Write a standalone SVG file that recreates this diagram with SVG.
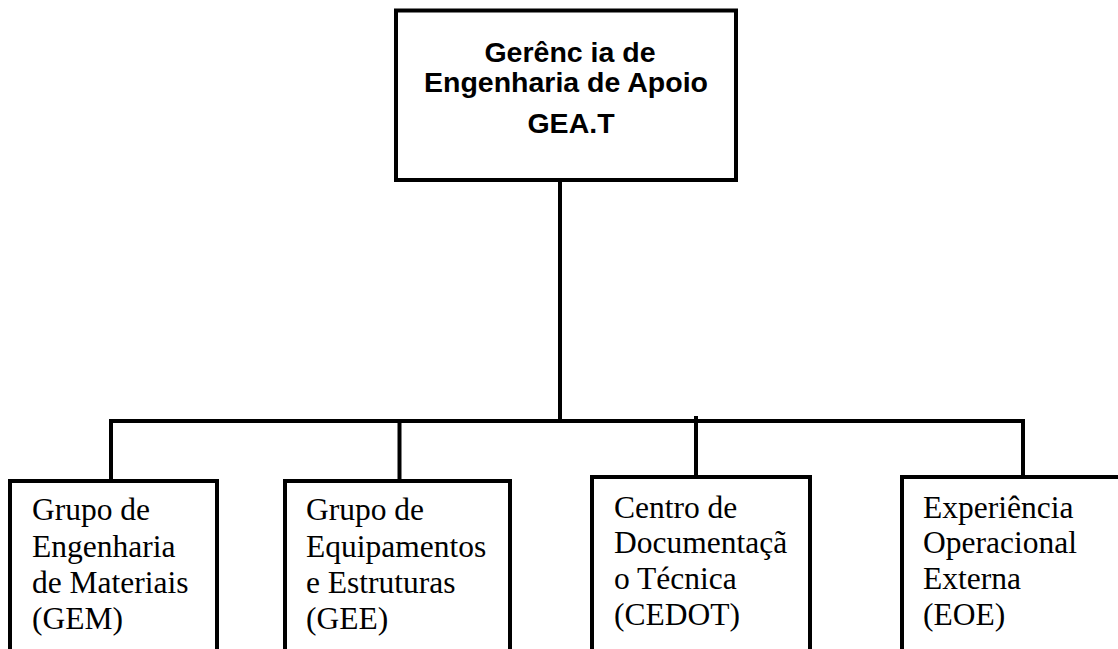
<svg xmlns="http://www.w3.org/2000/svg" width="1118" height="649" viewBox="0 0 1118 649">
<style>
.box{fill:#fff;stroke:#000;stroke-width:4}
.ln{stroke:#000;stroke-width:4;fill:none;stroke-linecap:square}
.hd{font-family:"Liberation Sans",Arial,sans-serif;font-weight:bold;font-size:28.5px;fill:#000;text-anchor:middle}
.tx{font-family:"Liberation Serif","Times New Roman",serif;font-size:31.5px;fill:#000}
</style>
<rect width="1118" height="649" fill="#fff"/>
<g id="connectors">
<path class="ln" d="M560 180 V421"/>
<path class="ln" d="M111 421 H1023"/>
<path class="ln" d="M111 421 V481"/>
<path class="ln" d="M399.5 421 V481"/>
<path class="ln" d="M696 418 V477"/>
<path class="ln" d="M1023 421 V477"/>
</g>
<g id="node-geat">
<rect class="box" x="396" y="10.5" width="340" height="169.5"/>
<text class="hd" x="570" y="62">Gerênc ia de</text>
<text class="hd" x="566" y="92">Engenharia de Apoio</text>
<text class="hd" x="571" y="133">GEA.T</text>
</g>
<g id="node-gem">
<rect class="box" x="10" y="481" width="207" height="190"/>
<text class="tx" x="32" y="520">Grupo de</text>
<text class="tx" x="32" y="557">Engenharia</text>
<text class="tx" x="32" y="593">de Materiais</text>
<text class="tx" x="32" y="629">(GEM)</text>
</g>
<g id="node-gee">
<rect class="box" x="285" y="481" width="225" height="190"/>
<text class="tx" x="306" y="520">Grupo de</text>
<text class="tx" x="306" y="557">Equipamentos</text>
<text class="tx" x="306" y="593">e Estruturas</text>
<text class="tx" x="306" y="629">(GEE)</text>
</g>
<g id="node-cedot">
<rect class="box" x="592" y="477" width="218" height="194"/>
<text class="tx" x="614" y="518">Centro de</text>
<text class="tx" x="614" y="553">Documentaçã</text>
<text class="tx" x="614" y="589">o Técnica</text>
<text class="tx" x="614" y="625">(CEDOT)</text>
</g>
<g id="node-eoe">
<rect class="box" x="902" y="477" width="240" height="194"/>
<text class="tx" x="923" y="518">Experiência</text>
<text class="tx" x="923" y="553">Operacional</text>
<text class="tx" x="923" y="589">Externa</text>
<text class="tx" x="923" y="625">(EOE)</text>
</g>
</svg>
